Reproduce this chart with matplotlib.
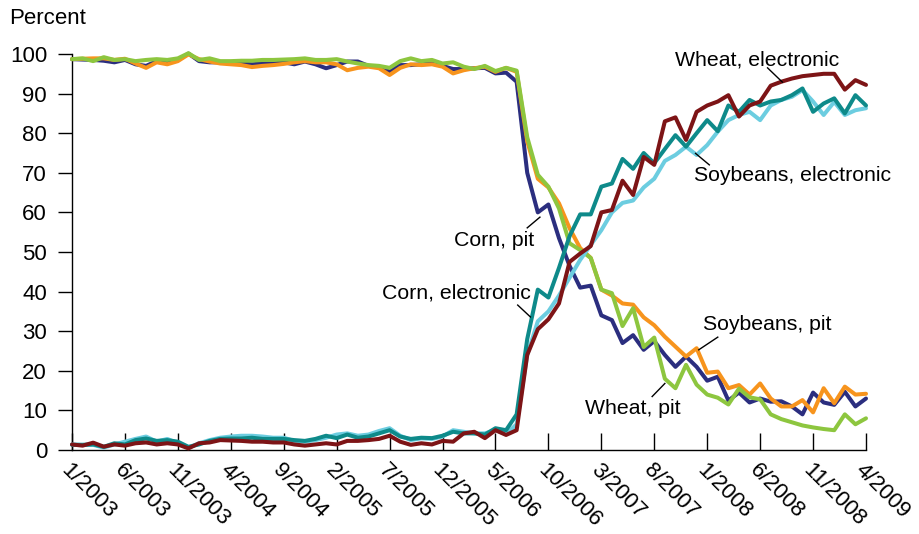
import matplotlib
matplotlib.use("Agg")
import matplotlib.pyplot as plt

plt.rcParams['font.family'] = ['Liberation Sans', 'DejaVu Sans']

tick_labels = ["1/2003", "6/2003", "11/2003", "4/2004", "9/2004", "2/2005", "7/2005",
               "12/2005", "5/2006", "10/2006", "3/2007", "8/2007", "1/2008", "6/2008",
               "11/2008", "4/2009"]

corn_pit = [98.7, 98.6, 98.5, 98.3, 97.9, 98.5, 97.4, 97.0, 98.2, 98.1, 98.5, 100.1, 98.2, 97.9, 97.9, 97.6,
            97.6, 97.4, 97.6, 97.6, 97.9, 97.4, 98.1, 97.4, 96.4, 97.2, 98.1, 98.1, 97.0, 96.8, 95.5, 97.2,
            97.2, 97.4, 97.6, 97.0, 96.2, 96.2, 96.4, 96.5, 95.1, 95.3, 93.0, 70.0, 60.0, 62.0, 53.5, 46.5,
            41.0, 41.5, 34.0, 32.8, 27.0, 29.0, 25.3, 27.5, 24.0, 21.0, 23.6, 21.0, 17.5, 18.5, 12.5, 14.5,
            12.0, 13.0, 12.2, 12.3, 11.0, 9.0, 14.5, 12.0, 11.4, 14.7, 11.0, 13.0]
soy_pit = [98.7, 98.8, 98.9, 98.9, 98.5, 98.8, 97.6, 96.5, 97.9, 97.4, 98.2, 99.9, 98.7, 98.1, 97.6, 97.4,
           97.2, 96.7, 97.0, 97.2, 97.5, 97.9, 98.2, 97.9, 97.9, 97.4, 95.9, 96.5, 96.8, 96.4, 94.7, 96.5,
           97.4, 97.2, 97.4, 96.8, 95.1, 95.9, 96.4, 96.8, 95.5, 96.5, 95.5, 78.0, 68.5, 66.3, 62.3, 56.0,
           51.0, 48.5, 40.5, 39.0, 37.0, 36.7, 33.5, 31.5, 28.6, 26.1, 23.6, 25.7, 19.5, 19.8, 15.6, 16.4,
           14.0, 16.8, 13.0, 11.0, 11.0, 12.6, 9.5, 15.6, 11.8, 16.0, 14.0, 14.2]
wheat_pit = [98.7, 98.9, 98.2, 99.2, 98.5, 98.7, 98.2, 98.5, 98.7, 98.5, 98.9, 100.2, 98.5, 98.9, 98.2, 98.2,
             98.3, 98.3, 98.5, 98.5, 98.6, 98.7, 98.9, 98.5, 98.5, 98.7, 98.1, 97.6, 97.2, 97.0, 96.5, 98.2,
             98.9, 98.2, 98.5, 97.6, 97.9, 96.8, 96.2, 97.0, 95.7, 96.5, 95.8, 79.0, 69.5, 66.5, 61.0, 52.2,
             50.5, 48.5, 40.5, 39.6, 31.3, 35.8, 26.0, 28.4, 18.0, 15.6, 21.5, 16.5, 14.0, 13.2, 11.5, 15.5,
             13.3, 12.8, 9.0, 7.8, 7.0, 6.2, 5.7, 5.3, 5.0, 9.0, 6.5, 8.0]
corn_elec = [1.3, 1.3, 1.4, 0.8, 1.7, 1.4, 2.5, 2.9, 2.3, 2.5, 2.1, 0.8, 1.4, 2.3, 2.8, 2.9,
             2.9, 3.1, 2.8, 2.8, 2.8, 2.5, 2.3, 2.8, 3.6, 3.0, 3.9, 3.1, 3.4, 4.2, 5.0, 3.4,
             2.8, 3.1, 3.0, 3.6, 4.6, 4.2, 4.2, 3.9, 5.5, 5.0, 9.0, 28.0, 40.5, 38.5, 46.0, 54.0,
             59.5, 59.5, 66.5, 67.3, 73.5, 71.0, 75.0, 72.4, 76.0, 79.5, 76.6, 80.0, 83.3, 80.5, 87.0, 85.4,
             88.4, 87.0, 88.0, 88.4, 89.6, 91.3, 85.4, 87.5, 88.8, 85.0, 89.6, 87.0]
soy_elec = [1.4, 1.3, 1.3, 0.6, 1.4, 2.1, 2.8, 3.4, 2.1, 2.8, 1.7, 0.6, 1.7, 2.5, 3.1, 3.4,
            3.6, 3.6, 3.4, 3.1, 3.1, 2.3, 2.1, 2.5, 3.1, 3.9, 4.2, 3.6, 3.9, 4.8, 5.5, 3.6,
            2.5, 2.95, 2.8, 3.4, 5.0, 4.6, 4.2, 4.2, 5.0, 4.0, 6.5, 24.0, 32.5, 35.0, 39.0, 43.5,
            48.0, 51.8, 55.5, 60.0, 62.4, 63.0, 66.3, 68.5, 73.0, 74.5, 76.6, 74.5, 77.0, 80.4, 83.3, 84.6,
            85.4, 83.3, 87.0, 88.4, 89.2, 90.9, 88.0, 84.6, 87.9, 84.6, 85.8, 86.3]
wheat_elec = [1.4, 1.1, 1.85, 0.84, 1.4, 1.1, 1.7, 1.9, 1.4, 1.7, 1.4, 0.4, 1.7, 1.9, 2.5, 2.4,
              2.3, 2.1, 2.1, 1.9, 1.9, 1.4, 1.1, 1.4, 1.7, 1.4, 2.3, 2.3, 2.5, 2.8, 3.6, 2.1,
              1.3, 1.7, 1.4, 2.3, 2.1, 4.2, 4.6, 3.0, 5.0, 3.8, 5.0, 24.0, 30.5, 33.0, 37.0, 47.5,
              49.6, 51.5, 60.0, 60.6, 68.0, 64.4, 74.0, 72.0, 83.0, 84.0, 78.3, 85.4, 87.0, 88.0, 89.6, 84.2,
              87.0, 88.0, 92.0, 93.0, 93.8, 94.4, 94.7, 95.0, 95.0, 91.0, 93.4, 92.2]

series = [
    (corn_pit, "#2b2e7f"),
    (soy_pit, "#f7941d"),
    (wheat_pit, "#8dc63f"),
    (soy_elec, "#6ccde0"),
    (corn_elec, "#0e8a8a"),
    (wheat_elec, "#7d1416"),
]

fig = plt.figure(figsize=(9.19, 5.34), dpi=100)
ax = fig.add_axes([72 / 919, 84 / 534, (866 - 72) / 919, (450 - 54) / 534])

months = list(range(len(corn_pit)))
for vals, col in series:
    ax.plot(months, vals, color=col, lw=2.9, solid_joinstyle='round', solid_capstyle='round',
            clip_on=False, zorder=3)

ax.set_xlim(0, len(corn_pit) - 1)
ax.set_ylim(0, 100)
ax.set_yticks(range(0, 101, 10))
ax.set_xticks(range(0, len(corn_pit), 5))
ax.set_xticklabels(tick_labels, rotation=-45, ha='left', va='top', rotation_mode='anchor')
ax.tick_params(axis='y', direction='out', length=10, width=1, labelsize=16, pad=8)
ax.tick_params(axis='x', direction='in', length=12, width=1, labelsize=16, pad=7)
for s in ['top', 'right']:
    ax.spines[s].set_visible(False)
ax.spines['left'].set_linewidth(1)
ax.spines['bottom'].set_linewidth(1)
ax.set_facecolor('none')

fig.text(9 / 919, 1 - 18 / 534, "Percent", fontsize=16, ha='left', va='center')

fs = 15.3
ann = [
    ("Wheat, electronic", 64.7, 98.5, 'center', [(65.7, 67.1), (96.5, 92.9)]),
    ("Soybeans, electronic", 58.8, 69.4, 'left', [(58.9, 60.2), (74.9, 72.0)]),
    ("Corn, pit", 43.7, 53.0, 'right', [(43.0, 44.2), (56.1, 58.8)]),
    ("Corn, electronic", 43.3, 39.6, 'right', [(42.1, 43.3), (36.6, 33.6)]),
    ("Soybeans, pit", 59.6, 31.6, 'left', [(61.0, 59.2), (28.5, 25.3)]),
    ("Wheat, pit", 48.5, 10.6, 'left', [(54.8, 56.0), (13.5, 16.8)]),
]
for txt, tx, ty, ha, (lx, ly) in ann:
    ax.text(tx, ty, txt, fontsize=fs, ha=ha, va='center', zorder=5)
    ax.plot(lx, ly, color='black', lw=1, zorder=4)

fig.savefig("out.png", dpi=100)
